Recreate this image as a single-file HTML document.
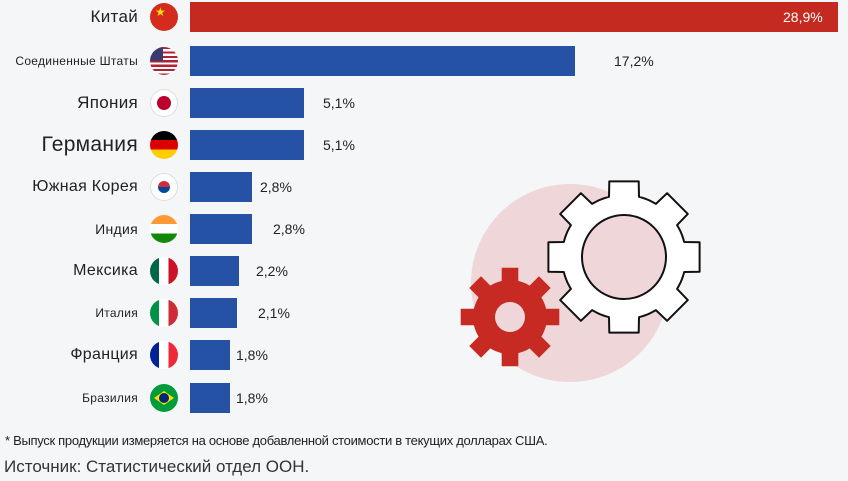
<!DOCTYPE html><html><head><meta charset="utf-8"><style>
body{margin:0;width:848px;height:481px;background:#f4f6f8;font-family:"Liberation Sans",sans-serif;position:relative;overflow:hidden}
.l{position:absolute;right:710px;color:#222;white-space:nowrap;transform:translateY(-50%);letter-spacing:0.3px}
.b{position:absolute;left:190px;height:30px;background:#2652a6;transform:translateY(-50%)}
.v{position:absolute;font-size:14px;color:#222;transform:translateY(-50%)}
.f{position:absolute;left:150px;width:28px;height:28px;border-radius:50%;overflow:hidden;transform:translateY(-50%)}
</style></head><body>
<svg width="848" height="481" style="position:absolute;left:0;top:0">
<circle cx="570" cy="283" r="99" fill="#efd6d8"/>
<path id="g1" transform="translate(624,257)" fill="#fff" stroke="#111" stroke-width="2" stroke-linejoin="round"/>
<circle cx="624" cy="257" r="42" fill="#efd6d8" stroke="#111" stroke-width="2"/>
<path id="g2" transform="translate(510,317)" fill="#c62a22"/>
<circle cx="510" cy="317" r="15" fill="#efd6d8"/>
</svg>
<script>
function gear(R,r,n,ao,ar,rot){var d="",k;for(var i=0;i<n;i++){var c=(i*360/n+rot)*Math.PI/180,a=ao*Math.PI/180,b=ar*Math.PI/180;var p=[[r,c-b],[R,c-a],[R,c+a],[r,c+b]];p.forEach(function(q,j){d+=(i==0&&j==0?"M":"L")+(q[0]*Math.sin(q[1])).toFixed(1)+","+(-q[0]*Math.cos(q[1])).toFixed(1)});var e=c+b,f=c+(360/n)*Math.PI/180-b;for(k=1;k<=4;k++){var t=e+(f-e)*k/5;d+="L"+(r*Math.sin(t)).toFixed(1)+","+(-r*Math.cos(t)).toFixed(1)}}return d+"Z"}
document.getElementById("g1").setAttribute("d",gear(77,62,8,11,14,0));
document.getElementById("g2").setAttribute("d",gear(50,37,8,9.5,13,0));
</script>
<div class="l" style="top:17px;font-size:17px">Китай</div>
<div class="l" style="top:61px;font-size:12px">Соединенные Штаты</div>
<div class="l" style="top:103px;font-size:17px">Япония</div>
<div class="l" style="top:145px;font-size:21px">Германия</div>
<div class="l" style="top:187px;font-size:16px">Южная Корея</div>
<div class="l" style="top:229px;font-size:14px">Индия</div>
<div class="l" style="top:271px;font-size:16px">Мексика</div>
<div class="l" style="top:313px;font-size:12px">Италия</div>
<div class="l" style="top:355px;font-size:16px">Франция</div>
<div class="l" style="top:398px;font-size:12px">Бразилия</div>
<div class="f" style="top:17px;background:#d52b1e"><span style="position:absolute;left:5px;top:2px;color:#ffde00;font-size:12px">★</span></div>
<div class="f" style="top:61px;background:repeating-linear-gradient(#b22234 0 2.2px,#fff 2.2px 4.4px)"><div style="width:13px;height:14px;background:#3c3b6e"></div></div>
<div class="f" style="top:103px;background:#fff;box-shadow:inset 0 0 0 1px #ddd"><div style="position:absolute;left:7px;top:7px;width:14px;height:14px;border-radius:50%;background:#bc002d"></div></div>
<div class="f" style="top:145px;background:linear-gradient(#000 0 33%,#dd0000 33% 66%,#ffce00 66%)"></div>
<div class="f" style="top:187px;background:#fff;box-shadow:inset 0 0 0 1px #ddd"><div style="position:absolute;left:8px;top:8px;width:12px;height:12px;border-radius:50%;background:linear-gradient(#cd2e3a 50%,#0047a0 50%)"></div></div>
<div class="f" style="top:229px;background:linear-gradient(#ff9933 0 33%,#fff 33% 66%,#138808 66%)"></div>
<div class="f" style="top:271px;background:linear-gradient(90deg,#006847 0 33%,#fff 33% 66%,#ce1126 66%)"></div>
<div class="f" style="top:313px;background:linear-gradient(90deg,#009246 0 33%,#fff 33% 66%,#ce2b37 66%)"></div>
<div class="f" style="top:355px;background:linear-gradient(90deg,#002395 0 33%,#fff 33% 66%,#ed2939 66%)"></div>
<div class="f" style="top:398px;background:#009c3b"><div style="position:absolute;left:4px;top:7px;width:20px;height:14px;background:#ffdf00;clip-path:polygon(50% 0,100% 50%,50% 100%,0 50%)"></div><div style="position:absolute;left:9px;top:9px;width:10px;height:10px;border-radius:50%;background:#002776"></div></div>
<div class="b" style="top:17px;width:648px;background:#c42a20"></div>
<div class="v" style="top:17px;left:783px;color:#fff">28,9%</div>
<div class="b" style="top:61px;width:385px"></div><div class="v" style="top:61px;left:614px">17,2%</div>
<div class="b" style="top:103px;width:114px"></div><div class="v" style="top:103px;left:323px">5,1%</div>
<div class="b" style="top:145px;width:114px"></div><div class="v" style="top:145px;left:323px">5,1%</div>
<div class="b" style="top:187px;width:62px"></div><div class="v" style="top:187px;left:260px">2,8%</div>
<div class="b" style="top:229px;width:62px"></div><div class="v" style="top:229px;left:273px">2,8%</div>
<div class="b" style="top:271px;width:49px"></div><div class="v" style="top:271px;left:256px">2,2%</div>
<div class="b" style="top:313px;width:47px"></div><div class="v" style="top:313px;left:258px">2,1%</div>
<div class="b" style="top:355px;width:40px"></div><div class="v" style="top:355px;left:236px">1,8%</div>
<div class="b" style="top:398px;width:40px"></div><div class="v" style="top:398px;left:236px">1,8%</div>
<div style="position:absolute;left:5px;top:433px;font-size:13px;color:#222;letter-spacing:-0.3px">* Выпуск продукции измеряется на основе добавленной стоимости в текущих долларах США.</div>
<div style="position:absolute;left:4px;top:457px;font-size:17px;color:#333">Источник: Статистический отдел ООН.</div>
</body></html>
